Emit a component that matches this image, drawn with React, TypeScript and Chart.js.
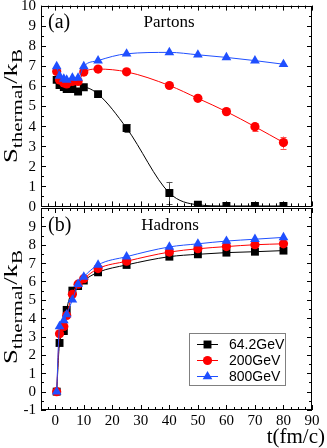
import React, { useEffect, useRef } from 'react';
import { Chart, registerables } from 'chart.js';
Chart.register(...registerables);

// ---------- data ----------
const times = [0.5, 1.5, 3, 4, 6, 8, 10, 15, 25, 40, 50, 60, 70, 80];
const seriesLabels = ['64.2GeV', '200GeV', '800GeV'];

const partons64 = [6.3, 6.05, 5.95, 5.85, 5.85, 5.72, 5.93, 5.59, 3.9, 0.67, 0.08, 0.02, 0.02, 0.02];
const partons200 = [6.72, 6.3, 6.15, 6.1, 6.22, 6.22, 6.69, 6.84, 6.7, 6.02, 5.38, 4.72, 3.97, 3.18];
const partons800 = [6.97, 6.5, 6.35, 6.3, 6.4, 6.4, 6.97, 7.26, 7.6, 7.67, 7.55, 7.42, 7.26, 7.08];

const partonsErr64 = [0, 0, 0, 0, 0, 0, 0, 0.05, 0.2, 0.55, 0.03, 0, 0, 0];
const partonsErr200 = [0, 0, 0, 0, 0, 0, 0, 0, 0, 0.05, 0.05, 0.1, 0.2, 0.3];
const partonsErr800 = [0, 0, 0, 0, 0, 0, 0, 0, 0, 0, 0, 0, 0, 0];

const hadrons64 = [0, 2.65, 3.3, 4.45, 5.5, 5.75, 6.05, 6.5, 6.9, 7.35, 7.48, 7.57, 7.62, 7.68];
const hadrons200 = [0, 3.15, 3.55, 4.15, 5.3, 5.85, 6.15, 6.7, 7.1, 7.6, 7.78, 7.9, 8.0, 8.05];
const hadrons800 = [0, 3.55, 3.88, 4.2, 5.0, 5.85, 6.25, 6.9, 7.35, 7.88, 8.05, 8.2, 8.3, 8.4];

const xTickValues = [0, 10, 20, 30, 40, 50, 60, 70, 80, 90];
const topYTicks = [0, 1, 2, 3, 4, 5, 6, 7, 8, 9, 10];
const bottomYTicks = [-1, 0, 1, 2, 3, 4, 5, 6, 7, 8, 9];

// ---------- styles ----------
const COLORS = ['#000000', '#ff0000', '#1f4fff'];
const SHAPES = ['rect', 'circle', 'triangle'];
const RADII = [5.6, 4.6, 5.6];
const SERIF = '"Liberation Serif", "Times New Roman", serif';
const SANS = '"Liberation Sans", Arial, sans-serif';

function makeDatasets(series: number[][]) {
  return series.map((vals, i) => ({
    label: seriesLabels[i],
    data: times.map((t, j) => ({ x: t, y: vals[j] })),
    borderColor: COLORS[i],
    backgroundColor: COLORS[i],
    pointBackgroundColor: COLORS[i],
    pointBorderColor: COLORS[i],
    pointStyle: SHAPES[i],
    pointRadius: RADII[i],
    pointBorderWidth: 0,
    borderWidth: 1,
    cubicInterpolationMode: 'monotone' as const,
    order: 2 - i,
  }));
}

function drawMarker(ctx: CanvasRenderingContext2D, shape: string, x: number, y: number, r: number, color: string) {
  ctx.save();
  ctx.fillStyle = color;
  ctx.beginPath();
  if (shape === 'rect') {
    const s = Math.SQRT1_2 * r;
    ctx.rect(x - s, y - s, 2 * s, 2 * s);
  } else if (shape === 'circle') {
    ctx.arc(x, y, r, 0, Math.PI * 2);
  } else {
    ctx.moveTo(x, y - r);
    ctx.lineTo(x + r * 0.866, y + r * 0.5);
    ctx.lineTo(x - r * 0.866, y + r * 0.5);
    ctx.closePath();
  }
  ctx.fill();
  ctx.restore();
}

function drawFrame(chart: any, yMin: number, yMax: number, yTicks: number[], showX: boolean) {
  const { ctx, chartArea: a, scales } = chart;
  const xs = scales.x;
  const ys = scales.y;
  ctx.save();
  ctx.strokeStyle = '#000';
  ctx.lineWidth = 1;
  ctx.strokeRect(Math.round(a.left) + 0.5, Math.round(a.top) + 0.5, Math.round(a.right - a.left) - 1, Math.round(a.bottom - a.top) - 1);
  ctx.beginPath();
  for (let v = -5; v <= 90.001; v += 2.5) {
    const major = Math.abs(v % 10) < 1e-6;
    const len = major ? 5 : 3;
    const px = Math.round(xs.getPixelForValue(v)) + 0.5;
    ctx.moveTo(px, a.bottom);
    ctx.lineTo(px, a.bottom - len);
    ctx.moveTo(px, a.top);
    ctx.lineTo(px, a.top + len);
  }
  for (let v = yMin; v <= yMax + 0.001; v += 0.5) {
    const major = Math.abs(v - Math.round(v)) < 1e-6;
    const len = major ? 5 : 3;
    const py = Math.round(ys.getPixelForValue(v)) + 0.5;
    ctx.moveTo(a.left, py);
    ctx.lineTo(a.left + len, py);
    ctx.moveTo(a.right, py);
    ctx.lineTo(a.right - len, py);
  }
  ctx.stroke();
  // tick labels
  ctx.fillStyle = '#000';
  ctx.font = `15px ${SERIF}`;
  ctx.textBaseline = 'middle';
  ctx.textAlign = 'right';
  yTicks.forEach((v) => {
    ctx.fillText(String(v), a.left - 5, ys.getPixelForValue(v) + 0.5);
  });
  if (showX) {
    ctx.textAlign = 'center';
    xTickValues.forEach((v) => {
      ctx.fillText(String(v), xs.getPixelForValue(v), a.bottom + 11);
    });
  }
  ctx.restore();
}

function drawYTitle(ctx: CanvasRenderingContext2D, bx: number, cy: number) {
  const parts = [
    { t: 'S', f: `19px ${SERIF}`, dy: 0 },
    { t: 'thermal', f: `15px ${SERIF}`, dy: 5 },
    { t: '/k', f: `19px ${SERIF}`, dy: 0 },
    { t: 'B', f: `15px ${SERIF}`, dy: 5 },
  ];
  ctx.save();
  let total = 0;
  const widths = parts.map((p) => {
    ctx.font = p.f;
    const w = ctx.measureText(p.t).width;
    total += w;
    return w;
  });
  const targetLen = 114;
  const sx = targetLen / total;
  ctx.translate(bx, cy);
  ctx.rotate(-Math.PI / 2);
  ctx.scale(sx, 1);
  ctx.fillStyle = '#000';
  ctx.textBaseline = 'alphabetic';
  ctx.textAlign = 'left';
  let x = -total / 2;
  parts.forEach((p, i) => {
    ctx.font = p.f;
    ctx.fillText(p.t, x, p.dy);
    x += widths[i];
  });
  ctx.restore();
}

function drawErrorBars(chart: any, errs: number[][]) {
  const { ctx, scales } = chart;
  ctx.save();
  ctx.lineWidth = 1;
  errs.forEach((arr, si) => {
    const vals = chart.data.datasets[si].data as { x: number; y: number }[];
    ctx.strokeStyle = si === 0 ? '#555' : si === 1 ? '#ff5050' : '#5070ff';
    arr.forEach((e, j) => {
      if (!e) return;
      const px = Math.round(scales.x.getPixelForValue(vals[j].x)) + 0.5;
      const y1 = scales.y.getPixelForValue(vals[j].y + e);
      const y2 = scales.y.getPixelForValue(vals[j].y - e);
      ctx.beginPath();
      ctx.moveTo(px, y1);
      ctx.lineTo(px, y2);
      ctx.moveTo(px - 3, Math.round(y1) + 0.5);
      ctx.lineTo(px + 3, Math.round(y1) + 0.5);
      ctx.moveTo(px - 3, Math.round(y2) + 0.5);
      ctx.lineTo(px + 3, Math.round(y2) + 0.5);
      ctx.stroke();
    });
  });
  ctx.restore();
}

function baseOptions(yMin: number, yMax: number, xHeight: number, padding: any) {
  return {
    animation: false as const,
    responsive: false,
    maintainAspectRatio: false,
    layout: { padding },
    plugins: { legend: { display: false }, tooltip: { enabled: false } },
    scales: {
      x: {
        type: 'linear' as const,
        min: -5,
        max: 90,
        grid: { display: false, drawTicks: false },
        border: { display: false },
        ticks: { display: false },
        afterFit: (s: any) => {
          s.height = xHeight;
          s.paddingLeft = 0;
          s.paddingRight = 0;
        },
      },
      y: {
        type: 'linear' as const,
        min: yMin,
        max: yMax,
        grid: { display: false, drawTicks: false },
        border: { display: false },
        ticks: { display: false },
        afterFit: (s: any) => {
          s.width = 41;
          s.paddingTop = 0;
          s.paddingBottom = 0;
        },
      },
    },
  };
}

export default function App() {
  const topRef = useRef<HTMLCanvasElement>(null);
  const botRef = useRef<HTMLCanvasElement>(null);

  useEffect(() => {
    const topPlugin = {
      id: 'topDeco',
      beforeDatasetsDraw(chart: any) {
        drawErrorBars(chart, [partonsErr64, partonsErr200, partonsErr800]);
      },
      afterDraw(chart: any) {
        const { ctx } = chart;
        drawFrame(chart, 0, 10, topYTicks, false);
        ctx.save();
        ctx.fillStyle = '#000';
        ctx.textBaseline = 'middle';
        ctx.font = `20px ${SERIF}`;
        ctx.textAlign = 'left';
        ctx.fillText('(a)', 48, 23);
        ctx.font = `17px ${SERIF}`;
        ctx.textAlign = 'center';
        ctx.fillText('Partons', 169, 23);
        ctx.restore();
        drawYTitle(ctx, 17, 106);
      },
    };
    const botPlugin = {
      id: 'botDeco',
      afterDraw(chart: any) {
        const { ctx } = chart;
        drawFrame(chart, -1, 10, bottomYTicks, true);
        ctx.save();
        ctx.fillStyle = '#000';
        ctx.textBaseline = 'middle';
        ctx.font = `20px ${SERIF}`;
        ctx.textAlign = 'left';
        ctx.fillText('(b)', 48, 26);
        ctx.font = `17px ${SERIF}`;
        ctx.textAlign = 'center';
        ctx.fillText('Hadrons', 170, 26);
        // x title
        ctx.font = `21px ${SERIF}`;
        ctx.textAlign = 'right';
        ctx.textBaseline = 'alphabetic';
        ctx.fillText('t(fm/c)', 325, 243);
        // legend
        ctx.strokeStyle = '#808080';
        ctx.lineWidth = 1;
        ctx.strokeRect(189.5, 133.5, 96, 52);
        const rows = [144.5, 160.5, 176.5];
        seriesLabels.forEach((lab, i) => {
          ctx.strokeStyle = COLORS[i];
          ctx.beginPath();
          ctx.moveTo(197, rows[i]);
          ctx.lineTo(218, rows[i]);
          ctx.stroke();
          drawMarker(ctx, SHAPES[i], 207.5, rows[i], RADII[i], COLORS[i]);
          ctx.fillStyle = '#000';
          ctx.font = `14px ${SANS}`;
          ctx.textAlign = 'left';
          ctx.textBaseline = 'middle';
          ctx.fillText(lab, 229, rows[i] + 1);
        });
        ctx.restore();
        drawYTitle(ctx, 17, 107);
      },
    };

    const top = new Chart(topRef.current!, {
      type: 'line',
      data: { datasets: makeDatasets([partons64, partons200, partons800]) as any },
      options: baseOptions(0, 10, 4, { left: 0, right: 15, top: 5, bottom: 0 }) as any,
      plugins: [topPlugin],
    });
    const bot = new Chart(botRef.current!, {
      type: 'line',
      data: { datasets: makeDatasets([hadrons64, hadrons200, hadrons800]) as any },
      options: baseOptions(-1, 10, 38, { left: 0, right: 15, top: 8, bottom: 0 }) as any,
      plugins: [botPlugin],
    });
    return () => {
      top.destroy();
      bot.destroy();
    };
  }, []);

  return (
    <div style={{ position: 'fixed', left: 0, top: 0, width: 327, height: 448, background: '#fff' }}>
      <canvas ref={botRef} width={327} height={248} style={{ position: 'absolute', left: 0, top: 200, width: 327, height: 248 }} />
      <canvas ref={topRef} width={327} height={212} style={{ position: 'absolute', left: 0, top: 0, width: 327, height: 212 }} />
    </div>
  );
}
